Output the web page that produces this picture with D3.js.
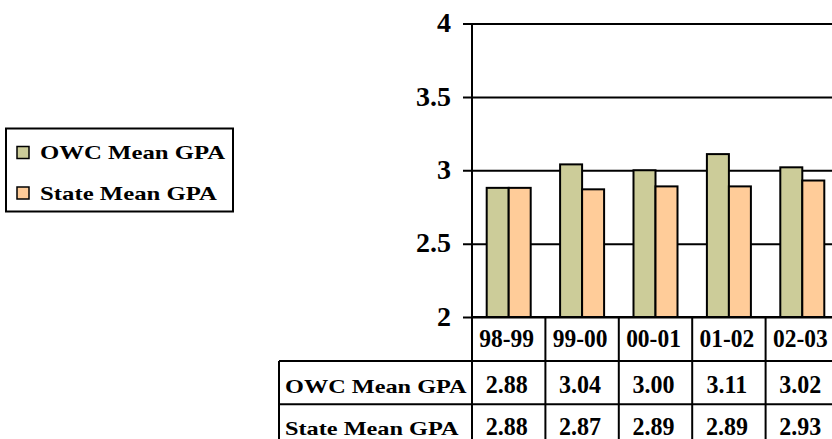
<!DOCTYPE html>
<html>
<head>
<meta charset="utf-8">
<script src="https://cdn.jsdelivr.net/npm/d3@7"></script>
<style>
  html, body { margin: 0; padding: 0; background: #fff; overflow: hidden; }
  svg text { font-family: "Liberation Serif", "Times New Roman", Times, serif; font-weight: bold; fill: #000; }
</style>
</head>
<body>
<svg id="chart" width="832" height="439"></svg>
<script>
// School years shown along the bottom of the chart
const years = ["98-99", "99-00", "00-01", "01-02", "02-03"];
// Series names
const seriesNames = ["OWC Mean GPA", "State Mean GPA"];
// Mean GPA per year
const owcGPA = [2.88, 3.04, 3.00, 3.11, 3.02];
const stateGPA = [2.88, 2.87, 2.89, 2.89, 2.93];
// Value axis ticks
const yTicks = [2, 2.5, 3, 3.5, 4];

const colors = ["#CCCC99", "#FFCC99"];
const seriesValues = [owcGPA, stateGPA];

const svg = d3.select("#chart");

// Horizontal stretch of a text run, keeping its font height
function stretchX(sel, factor) {
  sel.each(function () {
    const w = this.getComputedTextLength();
    d3.select(this).attr("textLength", w * factor).attr("lengthAdjust", "spacingAndGlyphs");
  });
}

const plot = { left: 472, right: 839, top: 23.5, bottom: 317 };

const y = d3.scaleLinear().domain([2, 4]).range([plot.bottom, plot.top]);
const x = d3.scaleBand().domain(years).range([plot.left, plot.right]).paddingInner(0).paddingOuter(0);
const barW = 22;
const xs = d3.scaleBand().domain(seriesNames).range([0, barW * 2]);
const cellMid = d => x(d) + x.bandwidth() / 2 - 2;

// Horizontal gridlines with tick marks and labels via a left axis
const yAxis = d3.axisLeft(y).tickValues(yTicks).tickFormat(d3.format("")).tickSize(-(plot.right - plot.left + 20)).tickPadding(21);
const ga = svg.append("g").attr("transform", `translate(${plot.left},0)`).call(yAxis);
ga.attr("font-family", null).attr("font-size", null);
ga.select(".domain").remove();
ga.selectAll(".tick line").attr("stroke", "#000").attr("stroke-width", 2).attr("x1", -9);
ga.selectAll(".tick text")
  .attr("font-size", 28)
  .attr("x", -21)
  .attr("dy", "0.29em");

// Bars
const groups = svg.append("g").selectAll("g")
  .data(years)
  .join("g")
  .attr("transform", d => `translate(${x(d) + (x.bandwidth() - barW * 2) / 2},0)`);

groups.selectAll("rect")
  .data((d, i) => seriesNames.map((s, k) => ({ s, v: seriesValues[k][i], k })))
  .join("rect")
  .attr("x", d => xs(d.s))
  .attr("width", xs.bandwidth())
  .attr("y", d => y(d.v))
  .attr("height", d => y(2) - y(d.v))
  .attr("fill", d => colors[d.k])
  .attr("stroke", "#000")
  .attr("stroke-width", 2);

// Value axis line
svg.append("line")
  .attr("x1", plot.left).attr("x2", plot.left)
  .attr("y1", plot.top).attr("y2", 450)
  .attr("stroke", "#000").attr("stroke-width", 2);

// Data table beneath the chart
const headerBottom = plot.bottom + 44;
const rowTops = [headerBottom, headerBottom + 43.3];
const rowBase = [31.7, 30.5];
const tableLeft = 279;
const line = (x1, y1, x2, y2) => svg.append("line")
  .attr("x1", x1).attr("y1", y1).attr("x2", x2).attr("y2", y2)
  .attr("stroke", "#000").attr("stroke-width", 2);

line(plot.left, plot.bottom, 850, plot.bottom);
years.forEach(yr => line(x(yr) + x.bandwidth(), plot.bottom, x(yr) + x.bandwidth(), 450));
rowTops.forEach(t => line(tableLeft, t, 850, t));
line(tableLeft, headerBottom, tableLeft, 450);

// Year labels
svg.append("g").selectAll("text")
  .data(years)
  .join("text")
  .attr("x", cellMid)
  .attr("y", plot.bottom + 29.7)
  .attr("text-anchor", "middle")
  .attr("font-size", 25.5)
  .text(d => d)
  .call(stretchX, 0.92);

// Row labels and values
seriesNames.forEach((name, r) => {
  const base = rowTops[r] + rowBase[r];
  svg.append("text")
    .attr("x", tableLeft + 6)
    .attr("y", base)
    .attr("font-size", 19.5)
    .text(name)
    .call(stretchX, 1.245);
  svg.append("g").selectAll("text")
    .data(seriesValues[r])
    .join("text")
    .attr("x", (d, i) => cellMid(years[i]))
    .attr("y", base)
    .attr("text-anchor", "middle")
    .attr("font-size", 25)
    .text(d => d.toFixed(2))
    .call(stretchX, 0.96);
});

// Legend
const lg = svg.append("g");
lg.append("rect")
  .attr("x", 6).attr("y", 128.5).attr("width", 227).attr("height", 83)
  .attr("fill", "#fff").attr("stroke", "#000").attr("stroke-width", 2);
seriesNames.forEach((name, k) => {
  const cy = 152.5 + k * 40.5;
  lg.append("rect")
    .attr("x", 17).attr("y", cy - 6).attr("width", 12).attr("height", 12)
    .attr("fill", colors[k]).attr("stroke", "#000").attr("stroke-width", 1.5);
  lg.append("text")
    .attr("x", 40).attr("y", cy + 6.8)
    .attr("font-size", 19.5)
    .text(name)
    .call(stretchX, 1.27);
});
</script>
</body>
</html>
